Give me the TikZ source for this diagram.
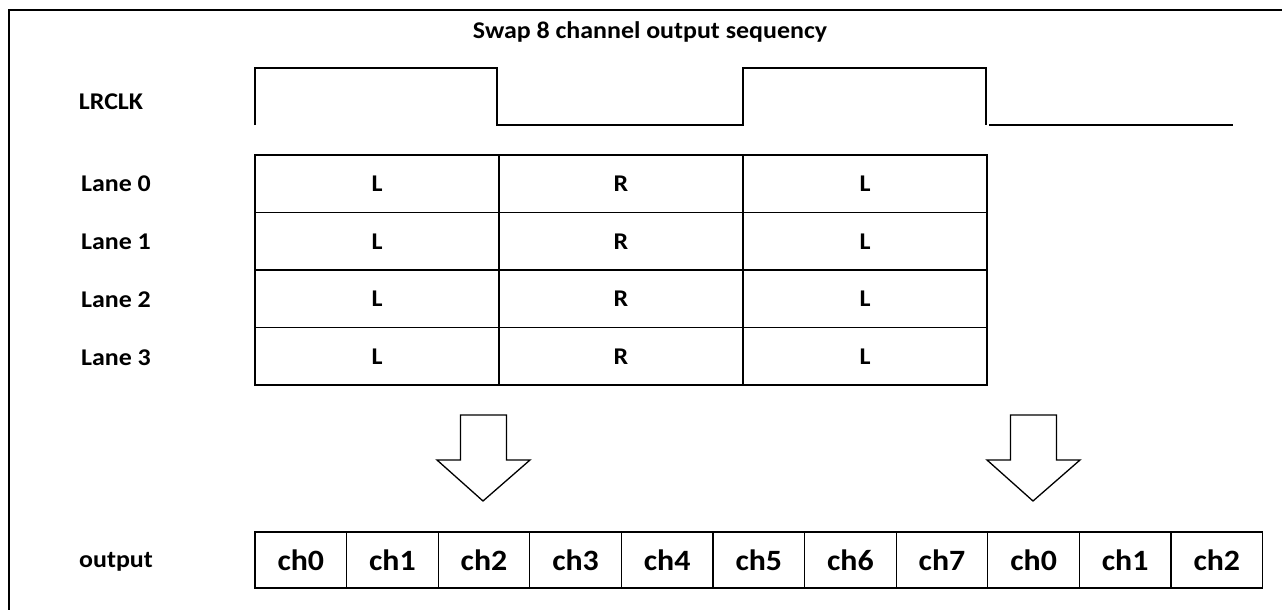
\documentclass[tikz,border=0pt]{standalone}
\usepackage{fontspec}
\setmainfont{Carlito}[FakeStretch=1.08]
\begin{document}
\begin{tikzpicture}[x=1pt,y=-1pt,line width=1.3pt,
  lbl/.style={font=\fontsize{24}{26}\selectfont\bfseries,inner sep=0pt},
  ttl/.style={font=\fontsize{24}{26}\selectfont\bfseries,inner sep=0pt},
  cell/.style={draw,minimum width=244pt,minimum height=57.5pt,inner sep=0pt,font=\fontsize{24}{26}\selectfont\bfseries},
  och/.style={draw,minimum width=91.6pt,minimum height=56pt,inner sep=0pt,font=\fontsize{29.5}{31}\selectfont\bfseries},
  wave/.style={line width=1.3pt},
  blockarrow/.style={draw,line width=1.3pt,fill=white}]
\useasboundingbox (0,0) rectangle (1282,610);
% frame (left and top only)
\draw (9,610) -- (9,10) -- (1282,10);
% title
\node[ttl] (title) at (650,32) {Swap 8 channel output sequency};
% labels
\node[lbl] (lrclk) at (111,102) {LRCLK};
\node[lbl] (lane0) at (116,184) {Lane 0};
\node[lbl] (lane1) at (116,242) {Lane 1};
\node[lbl] (lane2) at (116,300) {Lane 2};
\node[lbl] (lane3) at (116,358) {Lane 3};
\node[lbl,anchor=base] (outlbl) at (116,567) {output};
% LRCLK waveform
\draw[wave] (255,125) -- (255,68) -- (497,68) -- (497,125) -- (743,125) -- (743,68) -- (986,68) -- (986,125);
\draw[wave] (989,125) -- (1233,125);
% table
\foreach \r/\y in {0/183.75,1/241.25,2/298.75,3/356.25}{
  \node[cell] (c\r a) at (377,\y) {L};
  \node[cell] (c\r b) at (621,\y) {R};
  \node[cell] (c\r c) at (865,\y) {L};
}
% block arrows
\draw[blockarrow] (460.5,415) -- (506.5,415) -- (506.5,460) -- (530,460) -- (483,501) -- (437,460) -- (460.5,460) -- cycle;
\draw[blockarrow] (1010.5,415) -- (1056.5,415) -- (1056.5,460) -- (1080,460) -- (1033,501) -- (987,460) -- (1010.5,460) -- cycle;
% output cells
\foreach \i/\t in {0/ch0,1/ch1,2/ch2,3/ch3,4/ch4,5/ch5,6/ch6,7/ch7,8/ch0,9/ch1,10/ch2}{
  \node[och] (o\i) at ({255+45.8+91.6*\i},560) {\t};
}
\end{tikzpicture}
\end{document}
